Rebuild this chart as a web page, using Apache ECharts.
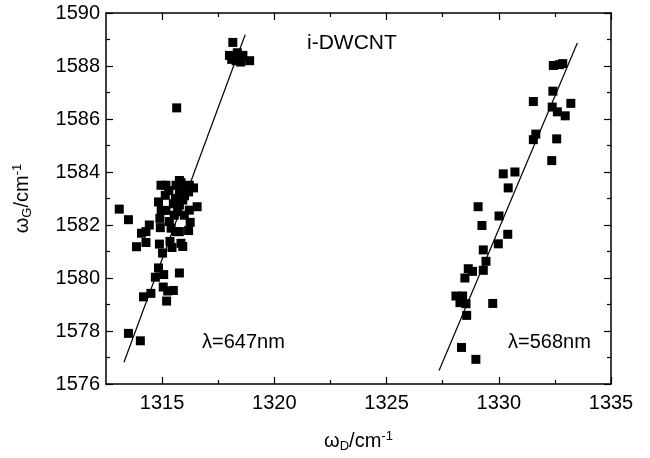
<!DOCTYPE html>
<html>
<head>
<meta charset="utf-8">
<script src="https://cdn.jsdelivr.net/npm/echarts@6/dist/echarts.min.js"></script>
<style>html,body{margin:0;padding:0;background:#fff}#c{width:650px;height:458px}</style>
</head>
<body>
<div id="c"></div>
<script>
// lambda = 647 nm data (omega_D, omega_G)
var pts647 = [
  [1318.15,1588.89],[1318.0,1588.4],[1318.2,1588.3],[1318.4,1588.4],[1318.6,1588.4],
  [1318.3,1588.2],[1318.5,1588.15],[1318.9,1588.2],[1318.1,1588.25],[1318.35,1588.5],
  [1315.65,1586.42],
  [1313.09,1582.60],[1313.5,1582.20],[1313.86,1581.18],[1314.08,1581.69],[1314.28,1581.75],
  [1314.43,1582.0],[1314.28,1581.34],[1314.17,1579.29],[1314.5,1579.42],[1313.5,1577.91],
  [1314.03,1577.63],[1314.7,1580.03],[1314.84,1580.38],[1315.07,1580.13],[1315.05,1579.66],
  [1315.25,1579.51],[1315.5,1579.53],[1315.2,1579.13],[1315.77,1580.19],[1314.88,1581.28],
  [1315.02,1580.94],[1314.92,1581.90],[1314.9,1582.25],[1314.84,1582.87],[1314.96,1582.55],
  [1315.17,1582.55],[1314.95,1583.50],[1315.17,1583.50],[1315.14,1583.12],[1315.32,1582.13],
  [1315.4,1581.88],[1315.35,1581.38],[1315.44,1581.15],[1315.62,1581.75],[1315.77,1581.75],
  [1315.84,1581.31],[1315.92,1581.19],[1315.54,1582.37],[1315.69,1582.50],[1315.77,1582.75],
  [1315.59,1583.0],[1315.77,1583.25],[1315.62,1583.50],[1315.84,1583.60],[1316.04,1583.44],
  [1316.21,1583.50],[1316.18,1583.25],[1316.21,1582.56],[1316.56,1582.69],[1316.25,1582.10],
  [1316.18,1581.79],[1315.99,1582.37],[1316.4,1583.40],[1315.92,1582.94],[1315.77,1583.68],
  [1315.3,1583.3],[1315.5,1582.8],[1316.0,1583.1]
];
// lambda = 568 nm data
var pts568 = [
  [1332.43,1588.02],[1332.70,1588.05],[1332.85,1588.09],[1332.41,1587.05],[1331.54,1586.66],
  [1333.21,1586.59],[1332.38,1586.45],[1332.61,1586.27],[1332.96,1586.12],[1331.65,1585.43],
  [1331.54,1585.22],[1332.58,1585.25],[1332.36,1584.43],[1330.2,1583.93],[1330.72,1584.0],
  [1330.42,1583.40],[1329.08,1582.69],[1330.01,1582.34],[1329.25,1581.98],[1330.4,1581.65],
  [1329.98,1581.29],[1329.31,1581.06],[1329.43,1580.63],[1328.64,1580.35],[1328.83,1580.25],
  [1329.31,1580.29],[1328.49,1580.0],[1328.09,1579.32],[1328.39,1579.32],[1328.27,1579.07],
  [1328.54,1579.03],[1329.73,1579.04],[1328.57,1578.59],[1328.34,1577.38],[1328.98,1576.93]
];
// linear fits (end points)
var fit647 = [[1313.3,1576.82],[1318.7,1589.18]];
var fit568 = [[1327.34,1576.51],[1333.5,1588.87]];
var xMajor = [1315,1320,1325,1330,1335];
var xMinor = [1317.5,1322.5,1327.5,1332.5];
var xMin = 1312.5, xMax = 1335, yMin = 1576, yMax = 1590;

var FONT = 'Liberation Sans';
var chart = echarts.init(document.getElementById('c'));
var nameRich = {a:{fontSize:20,fontFamily:FONT,color:'#000'},
  sub:{fontSize:13,fontFamily:FONT,color:'#000',verticalAlign:'bottom',padding:[10,0,0,0]},
  sup:{fontSize:13,fontFamily:FONT,color:'#000',verticalAlign:'top',padding:[0,0,10,0]}};
function plain(v){ return String(v); }
function xAx(pos, ticks, len, showLine, showLabel, name) {
  return {
    type:'value', position:pos, min:xMin, max:xMax, splitLine:{show:false},
    axisLine:{show:showLine, onZero:false, lineStyle:{color:'#000', width:1.5}},
    axisTick:{show:true, inside:true, length:len, customValues:ticks, lineStyle:{color:'#000', width:1.2}},
    axisLabel:{show:showLabel, customValues:ticks, formatter:plain, color:'#000', fontFamily:FONT, fontSize:20, margin:9},
    name:name||'', nameLocation:'middle', nameGap:46,
    nameTextStyle:{color:'#000', fontFamily:FONT, fontSize:20, rich:nameRich}
  };
}
function yAx(pos, showLabel, name) {
  return {
    type:'value', position:pos, min:yMin, max:yMax, interval:2, splitLine:{show:false},
    axisLine:{show:true, onZero:false, lineStyle:{color:'#000', width:1.5}},
    axisTick:{show:true, inside:true, length:7, lineStyle:{color:'#000', width:1.2}},
    minorTick:{show:true, splitNumber:2, length:4, lineStyle:{color:'#000', width:1.2}},
    axisLabel:{show:showLabel, formatter:plain, color:'#000', fontFamily:FONT, fontSize:20, margin:6},
    name:name||'', nameLocation:'middle', nameGap:72, nameRotate:90,
    nameTextStyle:{color:'#000', fontFamily:FONT, fontSize:20, rich:nameRich}
  };
}
var option = {
  backgroundColor:'#fff',
  animation:false,
  grid:{left:106, right:39, top:13, bottom:71},
  xAxis:[
    xAx('bottom', xMajor, 7, true, true, '{a|ω}{sub|D}{a|/cm}{sup|-1}'),
    xAx('bottom', xMinor, 4, false, false),
    xAx('top', xMajor, 7, true, false),
    xAx('top', xMinor, 4, false, false)
  ],
  yAxis:[
    yAx('left', true, '{a|ω}{sub|G}{a|/cm}{sup|-1}'),
    yAx('right', false)
  ],
  series:[
    {type:'scatter', data:pts647, symbol:'rect', symbolSize:9, itemStyle:{color:'#000', opacity:1}, xAxisIndex:0, yAxisIndex:0},
    {type:'scatter', data:pts568, symbol:'rect', symbolSize:9, itemStyle:{color:'#000', opacity:1}, xAxisIndex:0, yAxisIndex:0},
    {type:'line', data:fit647, symbol:'none', lineStyle:{color:'#000', width:1.2}, xAxisIndex:0, yAxisIndex:0},
    {type:'line', data:fit568, symbol:'none', lineStyle:{color:'#000', width:1.2}, xAxisIndex:0, yAxisIndex:0}
  ],
  graphic:[
    {type:'text', left:307, top:33, style:{text:'i-DWCNT', font:'21px "Liberation Sans"', fill:'#000'}},
    {type:'text', left:202, top:332, style:{text:'λ=647nm', font:'20px "Liberation Sans"', fill:'#000'}},
    {type:'text', left:508, top:332, style:{text:'λ=568nm', font:'20px "Liberation Sans"', fill:'#000'}}
  ]
};
chart.setOption(option);
</script>
</body>
</html>
